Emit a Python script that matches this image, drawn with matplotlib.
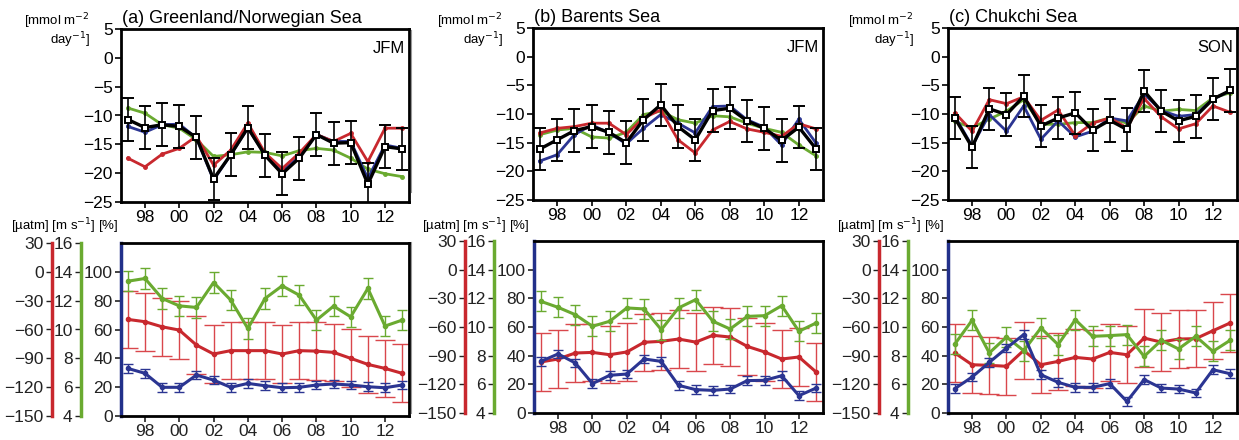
import matplotlib
matplotlib.use("Agg")
import matplotlib.pyplot as plt
from matplotlib.lines import Line2D
import numpy as np

plt.rcParams['font.family'] = ['Liberation Sans', 'DejaVu Sans']
plt.rcParams['axes.unicode_minus'] = True

years = list(range(1997, 2014))
xtick_years = [1998, 2000, 2002, 2004, 2006, 2008, 2010, 2012]
xtick_labels = ['98', '00', '02', '04', '06', '08', '10', '12']

titles = ['(a) Greenland/Norwegian Sea', '(b) Barents Sea', '(c) Chukchi Sea']
seasons = ['JFM', 'JFM', 'SON']

# ---- top row: CO2 flux [mmol m-2 day-1]
flux_black_a = [-10.7, -12.1, -11.6, -11.9, -13.8, -21.0, -16.8, -12.1, -16.9, -20.1, -17.4, -13.3, -14.8, -14.7, -21.9, -15.4, -15.8]
flux_blue_a = [-11.9, -12.9, -11.6, -11.5, -13.9, -21.2, -16.8, -12.2, -16.8, -19.7, -17.1, -13.3, -14.5, -14.5, -20.9, -15.1, -15.7]
flux_red_a = [-17.4, -18.9, -16.7, -15.7, -13.6, -18.6, -16.0, -11.3, -16.5, -19.2, -16.5, -13.3, -14.5, -13.1, -18.0, -12.2, -12.2]
flux_green_a = [-8.7, -9.6, -11.6, -12.2, -14.2, -17.1, -16.8, -16.3, -16.4, -17.0, -16.1, -15.7, -16.0, -17.4, -19.3, -20.1, -20.6]
flux_err_a = [3.7, 3.7, 3.7, 3.7, 3.7, 3.6, 3.7, 3.7, 3.7, 3.7, 3.7, 3.7, 3.7, 3.7, 3.7, 3.7, 3.7]

flux_black_b = [-16.1, -14.5, -12.9, -12.2, -13.2, -15.0, -11.0, -8.4, -12.2, -14.5, -9.4, -9.0, -11.2, -12.5, -14.6, -12.3, -16.1]
flux_blue_b = [-18.2, -17.1, -13.6, -11.9, -13.3, -15.2, -12.5, -10.1, -11.6, -13.3, -8.7, -8.6, -11.0, -12.3, -15.4, -10.9, -15.1]
flux_red_b = [-13.3, -12.5, -12.2, -11.6, -11.6, -13.6, -10.7, -9.3, -14.5, -16.8, -12.8, -11.3, -12.6, -13.2, -13.9, -11.7, -12.6]
flux_green_b = [-13.6, -12.8, -12.5, -14.0, -14.2, -13.2, -10.1, -9.5, -11.0, -11.6, -10.3, -10.5, -11.6, -12.5, -13.2, -15.4, -17.3]
flux_err_b = [3.7] * 17

flux_black_c = [-10.7, -15.8, -9.1, -10.1, -6.9, -12.1, -10.7, -9.8, -12.8, -11.1, -12.7, -6.0, -9.5, -11.2, -10.4, -7.4, -5.9]
flux_blue_c = [-10.4, -15.6, -10.1, -13.0, -8.6, -14.4, -11.2, -14.0, -13.0, -10.7, -11.2, -6.5, -9.4, -10.4, -10.1, -7.4, -6.0]
flux_red_c = [-9.8, -13.0, -7.5, -8.2, -7.0, -11.1, -9.3, -13.8, -11.6, -10.7, -12.4, -7.3, -10.5, -12.6, -11.7, -8.6, -9.7]
flux_green_c = [-11.3, -12.4, -10.9, -9.5, -7.5, -11.8, -11.8, -11.5, -11.5, -10.7, -11.6, -8.6, -9.5, -9.2, -9.4, -7.2, -6.3]
flux_err_c = [3.7] * 17

# ---- bottom row: dpCO2 [uatm], wind [m s-1], sea-ice [%]
dpco2_a = [-49.5, -51.9, -57.2, -60.6, -76.2, -85.5, -82.0, -82.0, -82.0, -85.5, -82.0, -82.5, -83.8, -90.0, -96.3, -100.5, -105.6]
wind_a = [13.35, 13.54, 12.15, 11.64, 11.53, 13.26, 12.04, 10.07, 12.15, 13.03, 12.38, 10.65, 11.62, 10.88, 12.85, 10.24, 10.65]
ice_a = [33.0, 29.6, 19.9, 19.9, 28.4, 24.9, 19.9, 22.6, 21.0, 19.6, 19.9, 21.5, 22.2, 21.5, 20.3, 19.6, 21.5]

dpco2_b = [-96.6, -93.5, -87.2, -86.6, -89.0, -86.1, -76.0, -75.0, -72.6, -75.8, -68.7, -70.5, -80.3, -86.1, -93.5, -91.4, -107.1]
wind_b = [11.79, 11.37, 10.86, 10.05, 10.40, 11.33, 11.26, 9.81, 11.33, 11.91, 10.40, 9.86, 10.74, 10.79, 11.49, 9.70, 10.28]
ice_b = [36.0, 41.2, 34.9, 20.5, 26.3, 27.2, 37.7, 36.0, 19.3, 16.3, 15.8, 16.7, 22.6, 22.8, 26.0, 12.1, 17.4]

dpco2_c = [-87.2, -99.5, -100.1, -101.1, -84.5, -99.5, -96.0, -91.8, -93.5, -86.6, -89.0, -71.6, -75.8, -72.6, -72.2, -63.9, -55.8]
wind_c = [8.81, 10.47, 8.19, 9.30, 8.35, 9.93, 8.77, 10.51, 9.35, 9.40, 9.47, 7.95, 9.07, 8.47, 9.35, 8.30, 9.07]
ice_c = [17.0, 25.1, 35.3, 45.3, 54.7, 26.7, 21.4, 17.9, 17.9, 20.5, 8.1, 23.3, 17.4, 16.7, 14.0, 30.2, 27.4]

dpco2_err = [30.0] * 17
wind_err = [0.7] * 17
ice_err = [3.0] * 17

RED = '#c8282e'
RED_E = '#d9474c'
GREEN = '#6aaa30'
BLUE = '#2b3592'
BLUE_SP = '#22308a'

W, H = 1239, 440
fig = plt.figure(figsize=(W / 100, H / 100), dpi=100)
fig.patch.set_facecolor('white')


def box(l, r, t, b):
    return [l / W, 1 - b / H, (r - l) / W, (b - t) / H]


top_boxes = [box(121, 409, 29, 202), box(533, 823, 28, 200), box(948, 1237, 28, 200)]
bot_boxes = [box(121, 409, 243, 416), box(534, 823, 241, 413), box(948, 1237, 241, 413)]
unit_top_x = [90, 503, 914]
unit_bot_x = [65, 476, 891]

top_sets = [
    (flux_black_a, flux_blue_a, flux_red_a, flux_green_a, flux_err_a),
    (flux_black_b, flux_blue_b, flux_red_b, flux_green_b, flux_err_b),
    (flux_black_c, flux_blue_c, flux_red_c, flux_green_c, flux_err_c),
]
bot_sets = [(dpco2_a, wind_a, ice_a), (dpco2_b, wind_b, ice_b), (dpco2_c, wind_c, ice_c)]

TS = 12.5

for i in range(3):
    # ---------- top panel
    ax = fig.add_axes(top_boxes[i])
    blk, blu, red, grn, err = top_sets[i]
    ax.plot(years, grn, color=GREEN, lw=2.0, marker='o', ms=2.5, zorder=2)
    ax.plot(years, blu, color=BLUE, lw=2.0, marker='o', ms=2.5, zorder=3)
    ax.plot(years, red, color=RED, lw=2.0, marker='o', ms=2.5, zorder=3)
    ax.errorbar(years, blk, yerr=err, color='black', lw=2.4, elinewidth=1.2,
                capsize=4.5, capthick=1.2, marker='s', ms=4.5, mfc='white',
                mec='black', mew=1.4, zorder=5)
    ax.set_xlim(1996.6, 2013.4)
    ax.set_ylim(-25, 5)
    ax.set_yticks(np.arange(-25, 6, 5))
    ax.set_xticks(xtick_years)
    ax.set_xticklabels(xtick_labels)
    ax.tick_params(axis='both', direction='out', length=4, width=1.2, labelsize=TS, pad=2)
    ax.tick_params(axis='x', pad=2)
    for s in ax.spines.values():
        s.set_linewidth(2.0)
    ax.text(0.985, 0.93, seasons[i], transform=ax.transAxes, ha='right', va='top', fontsize=12)
    ax.text(0.005, 1.01, titles[i], transform=ax.transAxes, ha='left', va='bottom', fontsize=13)
    fig.text(unit_top_x[i] / W, 1 - 11 / H, '[mmol m$^{-2}$\nday$^{-1}$]', ha='right', va='top',
             fontsize=9.5, linespacing=1.0)

    # ---------- bottom panel
    dp, wd, ic = bot_sets[i]
    axb = fig.add_axes(bot_boxes[i])
    axr = axb.twinx()
    axg = axb.twinx()
    axr.set_zorder(1)
    axg.set_zorder(2)
    axb.set_zorder(3)
    axb.patch.set_visible(False)

    axr.errorbar(years, dp, yerr=dpco2_err, color=RED, lw=2.2, marker='o', ms=3,
                 ecolor=RED_E, elinewidth=1.0, capsize=7, capthick=1.0)
    axg.errorbar(years, wd, yerr=wind_err, color=GREEN, lw=2.2, marker='o', ms=3,
                 ecolor=GREEN, elinewidth=1.0, capsize=3.5, capthick=1.0)
    axb.errorbar(years, ic, yerr=ice_err, color=BLUE, lw=2.2, marker='o', ms=3,
                 ecolor=BLUE, elinewidth=1.0, capsize=3.5, capthick=1.0)

    axb.set_xlim(1996.6, 2013.4)
    axb.set_ylim(0, 120)
    axb.set_yticks(np.arange(0, 101, 20))
    axb.set_xticks(xtick_years)
    axb.set_xticklabels(xtick_labels)
    axb.tick_params(axis='both', direction='out', length=4, width=1.2, labelsize=TS, pad=2,
                    colors='#222222')
    axb.tick_params(axis='x', pad=2)
    for s in axb.spines.values():
        s.set_linewidth(2.0)
    axb.spines['left'].set_color(BLUE_SP)
    axb.spines['left'].set_linewidth(2.5)

    width_px = bot_boxes[i][2] * W
    for a, lim, ticks, col, off in [
        (axr, (-150, 30), np.arange(-150, 31, 30), RED, 69),
        (axg, (4, 16), np.arange(4, 17, 2), GREEN, 40),
    ]:
        a.set_ylim(*lim)
        a.set_yticks(ticks)
        a.yaxis.set_ticks_position('left')
        a.yaxis.set_label_position('left')
        for nm in ['top', 'right', 'bottom']:
            a.spines[nm].set_visible(False)
        a.spines['left'].set_visible(True)
        a.spines['left'].set_position(('axes', -off / width_px))
        a.spines['left'].set_color(col)
        a.spines['left'].set_linewidth(2.5)
        a.tick_params(axis='y', direction='out', length=4, width=1.0, labelsize=TS, pad=2,
                      colors='#222222')
        a.set_xlim(1996.6, 2013.4)

    fig.text(unit_bot_x[i] / W, 1 - 226 / H, '[µatm] [m s$^{-1}$] [%]', ha='center', va='center',
             fontsize=9.5)

# faint separator lines between the panels
for xs in [411]:
    fig.add_artist(Line2D([xs / W, xs / W], [1 - 30 / H, 1 - 192 / H], color='#999999', lw=0.8))
    fig.add_artist(Line2D([xs / W, xs / W], [1 - 242 / H, 1 - 413 / H], color='#999999', lw=0.8))

fig.savefig('out.png', dpi=100, facecolor='white')
